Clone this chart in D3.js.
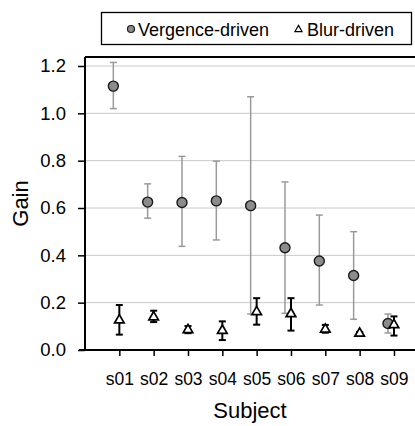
<!DOCTYPE html>
<html>
<head>
<meta charset="utf-8">
<script src="https://cdn.jsdelivr.net/npm/d3@7.9.0/dist/d3.min.js"></script>
<style>
  html, body { margin: 0; padding: 0; background: #fff; }
  svg { display: block; font-family: "Liberation Sans", Arial, sans-serif; }
</style>
</head>
<body>
<svg id="chart" width="415" height="426"></svg>
<script>
const subjects = ['s01', 's02', 's03', 's04', 's05', 's06', 's07', 's08', 's09'];

// vergence-driven gain, with error bar ends
const vergenceGain = [1.115, 0.625, 0.623, 0.630, 0.610, 0.432, 0.376, 0.315, 0.112];
const vergenceLow  = [1.020, 0.557, 0.438, 0.465, 0.152, 0.155, 0.190, 0.130, 0.072];
const vergenceHigh = [1.215, 0.702, 0.818, 0.798, 1.070, 0.710, 0.570, 0.500, 0.152];

// blur-driven gain, with error bar ends
const blurGain = [0.126, 0.139, 0.085, 0.082, 0.161, 0.153, 0.087, 0.070, 0.106];
const blurLow  = [0.065, 0.118, 0.071, 0.042, 0.107, 0.082, 0.073, 0.064, 0.061];
const blurHigh = [0.190, 0.166, 0.101, 0.121, 0.219, 0.219, 0.106, 0.076, 0.142];

const yTicks = [0.0, 0.2, 0.4, 0.6, 0.8, 1.0, 1.2];

const svg = d3.select('#chart');
const plotLeft = 85, plotTop = 57, plotBottom = 350, plotRight = 415;

const x = d3.scaleLinear().domain([0, 10]).range([plotLeft, plotLeft + 10 * 34.33]);
const y = d3.scaleLinear().domain([0, 1.2]).range([plotBottom, 66]);

const vergenceShift = -6;

// gridlines
svg.append('g')
  .selectAll('line')
  .data(yTicks.filter(d => d > 0))
  .join('line')
  .attr('x1', plotLeft).attr('x2', plotRight)
  .attr('y1', d => y(d)).attr('y2', d => y(d))
  .attr('stroke', '#c8c8c8').attr('stroke-width', 1);

// top border
svg.append('line')
  .attr('x1', plotLeft).attr('x2', plotRight)
  .attr('y1', plotTop).attr('y2', plotTop)
  .attr('stroke', '#000').attr('stroke-width', 2);

// y axis
const yAxis = svg.append('g')
  .attr('transform', `translate(${plotLeft},0)`)
  .call(d3.axisLeft(y).tickValues(yTicks).tickFormat(d3.format('.1f')).tickSize(7).tickPadding(12));
yAxis.select('.domain').remove();
yAxis.append('line')
  .attr('x1', 0).attr('x2', 0).attr('y1', plotTop).attr('y2', plotBottom)
  .attr('stroke', '#000').attr('stroke-width', 2);
yAxis.selectAll('.tick line').attr('stroke', '#000').attr('stroke-width', 1.5);
yAxis.selectAll('.tick text').attr('font-size', 18.5).attr('fill', '#000')
  .attr('font-family', '"Liberation Sans", Arial, sans-serif');

// x axis
const xAxis = svg.append('g')
  .attr('transform', `translate(0,${plotBottom})`)
  .call(d3.axisBottom(x).tickValues(d3.range(1, subjects.length + 1))
    .tickFormat(i => subjects[i - 1]).tickSize(6).tickPadding(17));
xAxis.select('.domain').remove();
xAxis.append('line')
  .attr('x1', plotLeft - 6).attr('x2', plotRight).attr('y1', 0).attr('y2', 0)
  .attr('stroke', '#000').attr('stroke-width', 2);
xAxis.selectAll('.tick line').attr('stroke', '#000').attr('stroke-width', 1.5);
xAxis.selectAll('.tick text').attr('font-size', 17.5).attr('fill', '#000')
  .attr('font-family', '"Liberation Sans", Arial, sans-serif');

// axis titles
svg.append('text')
  .attr('x', 250).attr('y', 418)
  .attr('text-anchor', 'middle')
  .attr('font-size', 22)
  .text('Subject');
svg.append('text')
  .attr('transform', `translate(28,${(plotTop + plotBottom) / 2}) rotate(-90)`)
  .attr('text-anchor', 'middle')
  .attr('font-size', 22)
  .text('Gain');

function errorBars(g, low, high, shift, color, width) {
  const capW = 3.5;
  const bars = g.selectAll('g')
    .data(subjects.map((s, i) => ({ i, lo: low[i], hi: high[i] })))
    .join('g')
    .attr('stroke', color).attr('stroke-width', width);
  bars.append('line')
    .attr('x1', d => x(d.i + 1) + shift).attr('x2', d => x(d.i + 1) + shift)
    .attr('y1', d => y(d.lo)).attr('y2', d => y(d.hi));
  bars.append('line')
    .attr('x1', d => x(d.i + 1) + shift - capW).attr('x2', d => x(d.i + 1) + shift + capW)
    .attr('y1', d => y(d.lo)).attr('y2', d => y(d.lo));
  bars.append('line')
    .attr('x1', d => x(d.i + 1) + shift - capW).attr('x2', d => x(d.i + 1) + shift + capW)
    .attr('y1', d => y(d.hi)).attr('y2', d => y(d.hi));
}

// vergence error bars
errorBars(svg.append('g'), vergenceLow, vergenceHigh, vergenceShift, '#9a9a9a', 1.5);

// blur error bars
errorBars(svg.append('g'), blurLow, blurHigh, 0, '#000', 2);

const tri = d3.symbol().type(d3.symbolTriangle).size(40);

svg.append('g')
  .selectAll('circle')
  .data(vergenceGain)
  .join('circle')
  .attr('cx', (d, i) => x(i + 1) + vergenceShift)
  .attr('cy', d => y(d))
  .attr('r', 5)
  .attr('fill', '#8c8c8c')
  .attr('stroke', '#1a1a1a')
  .attr('stroke-width', 1.4);

svg.append('g')
  .selectAll('path')
  .data(blurGain)
  .join('path')
  .attr('d', tri)
  .attr('transform', (d, i) => `translate(${x(i + 1)},${y(d)})`)
  .attr('fill', '#fff')
  .attr('stroke', '#000')
  .attr('stroke-width', 1.7);

// legend
const legend = svg.append('g');
legend.append('rect')
  .attr('x', 101.5).attr('y', 12.5).attr('width', 310).attr('height', 32)
  .attr('fill', '#fff').attr('stroke', '#000').attr('stroke-width', 1.3);
legend.append('circle')
  .attr('cx', 131).attr('cy', 29).attr('r', 3.5)
  .attr('fill', '#8c8c8c').attr('stroke', '#1a1a1a').attr('stroke-width', 1.2);
legend.append('text')
  .attr('x', 138).attr('y', 35.5).attr('font-size', 18)
  .text('Vergence-driven');
legend.append('path')
  .attr('d', d3.symbol().type(d3.symbolTriangle).size(22))
  .attr('transform', 'translate(298.5,29.5)')
  .attr('fill', '#fff').attr('stroke', '#000').attr('stroke-width', 1.2);
legend.append('text')
  .attr('x', 307).attr('y', 35.5).attr('font-size', 18)
  .text('Blur-driven');
</script>
</body>
</html>
